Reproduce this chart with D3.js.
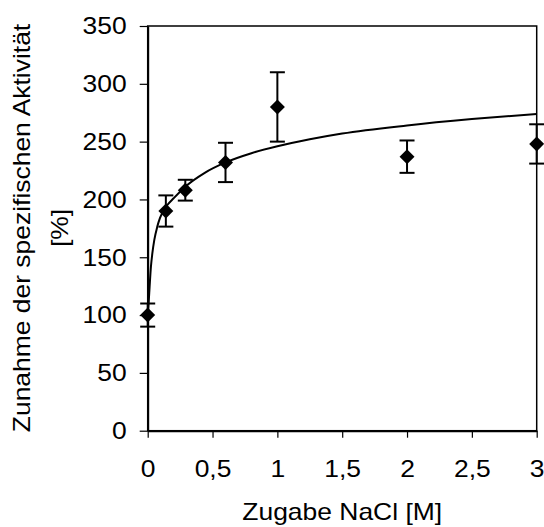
<!DOCTYPE html>
<html>
<head>
<meta charset="utf-8">
<script src="https://cdn.jsdelivr.net/npm/d3@7"></script>
<style>
  html, body { margin: 0; padding: 0; background: #fff; }
  text { font-family: "Liberation Sans", Arial, sans-serif; fill: #000; }
</style>
</head>
<body>
<div id="chart"></div>
<script>
// measured points: NaCl added [M] vs. increase of specific activity [%]
const naclConc = [0, 0.14, 0.29, 0.6, 1, 2, 3];
const activity = [100, 190, 208, 232, 280, 237, 248];
const activityErr = [10, 13.5, 9, 17, 30, 14, 17];

// fitted curve
const fitX = [0, 0.008, 0.015, 0.025, 0.036, 0.051, 0.074, 0.095, 0.126, 0.15, 0.2, 0.29, 0.44, 0.6, 0.8, 1, 1.25, 1.5, 2, 2.5, 3];
const fitY = [100, 112, 125, 142, 153.5, 165, 176.5, 184, 191, 195, 201, 211, 223, 232, 240, 246, 252, 257, 264, 269.5, 274];

const xTicks = [0, 0.5, 1, 1.5, 2, 2.5, 3];
const xTickLabels = ['0', '0,5', '1', '1,5', '2', '2,5', '3'];
const yTicks = [0, 50, 100, 150, 200, 250, 300, 350];

const width = 544;
const height = 527;
const margin = {top: 26, right: 7.3, bottom: 96.3, left: 147.7};
const stretch = 1.15;
const fontSize = 23;

const svg = d3.select('#chart')
  .append('svg')
  .attr('width', width)
  .attr('height', height);

const x = d3.scaleLinear()
  .domain([0, 3])
  .range([margin.left, width - margin.right]);

const y = d3.scaleLinear()
  .domain([0, 350])
  .range([height - margin.bottom, margin.top]);

// plot frame (top + right)
svg.append('rect')
  .attr('x', x(0))
  .attr('y', y(350))
  .attr('width', x(3) - x(0))
  .attr('height', y(0) - y(350))
  .attr('fill', 'none')
  .attr('stroke', '#000')
  .attr('stroke-width', 1.5);

const xAxis = svg.append('g')
  .attr('transform', `translate(0,${y(0)})`)
  .call(d3.axisBottom(x)
    .tickValues(xTicks)
    .tickFormat((d, i) => xTickLabels[i])
    .tickSizeInner(7)
    .tickSizeOuter(0));

xAxis.selectAll('text')
  .attr('y', 0)
  .attr('dy', 0)
  .attr('transform', `translate(0,46) scale(${stretch},1)`);

const yAxis = svg.append('g')
  .attr('transform', `translate(${x(0)},0)`)
  .call(d3.axisLeft(y)
    .tickValues(yTicks)
    .tickSizeInner(8)
    .tickSizeOuter(0));

yAxis.selectAll('text')
  .attr('x', 0)
  .attr('dy', '0.34em')
  .attr('transform', `translate(-21,0) scale(${stretch},1)`);

svg.selectAll('.tick text')
  .style('font-size', fontSize + 'px')
  .style('font-family', '"Liberation Sans", Arial, sans-serif')
  .attr('fill', '#000');

svg.selectAll('.tick line')
  .attr('stroke', '#000')
  .attr('stroke-width', 1.2);

svg.selectAll('.domain')
  .attr('stroke', '#000')
  .attr('stroke-width', 2);

// fitted curve
const fitLine = d3.line()
  .x((d, i) => x(fitX[i]))
  .y((d, i) => y(fitY[i]))
  .curve(d3.curveMonotoneX);

svg.append('path')
  .datum(fitX)
  .attr('d', fitLine)
  .attr('fill', 'none')
  .attr('stroke', '#000')
  .attr('stroke-width', 2);

// error bars
const bars = svg.append('g')
  .selectAll('g')
  .data(naclConc)
  .enter().append('g');

bars.append('line')
  .attr('x1', (d) => x(d))
  .attr('x2', (d) => x(d))
  .attr('y1', (d, i) => y(activity[i] - activityErr[i]))
  .attr('y2', (d, i) => y(activity[i] + activityErr[i]));

bars.append('line')
  .attr('x1', (d) => x(d) - 7.5)
  .attr('x2', (d) => x(d) + 7.5)
  .attr('y1', (d, i) => y(activity[i] - activityErr[i]))
  .attr('y2', (d, i) => y(activity[i] - activityErr[i]));

bars.append('line')
  .attr('x1', (d) => x(d) - 7.5)
  .attr('x2', (d) => x(d) + 7.5)
  .attr('y1', (d, i) => y(activity[i] + activityErr[i]))
  .attr('y2', (d, i) => y(activity[i] + activityErr[i]));

bars.selectAll('line')
  .attr('stroke', '#000')
  .attr('stroke-width', 2);

// diamond markers
svg.append('g')
  .selectAll('path')
  .data(naclConc)
  .enter().append('path')
  .attr('d', d3.symbol(d3.symbolSquare, 112))
  .attr('transform', (d, i) => `translate(${x(d)},${y(activity[i])}) rotate(45)`)
  .attr('fill', '#000');

// axis titles
svg.append('text')
  .attr('text-anchor', 'middle')
  .attr('transform', `translate(${(x(0) + x(3)) / 2},520) scale(${stretch},1)`)
  .style('font-size', fontSize + 'px')
  .text('Zugabe NaCl [M]');

svg.append('text')
  .attr('text-anchor', 'middle')
  .attr('transform', `translate(30,228) rotate(-90) scale(${stretch},1)`)
  .style('font-size', fontSize + 'px')
  .text('Zunahme der spezifischen Aktivität');

svg.append('text')
  .attr('text-anchor', 'middle')
  .attr('transform', `translate(67.5,228) rotate(-90) scale(${stretch},1)`)
  .style('font-size', fontSize + 'px')
  .text('[%]');
</script>
</body>
</html>
